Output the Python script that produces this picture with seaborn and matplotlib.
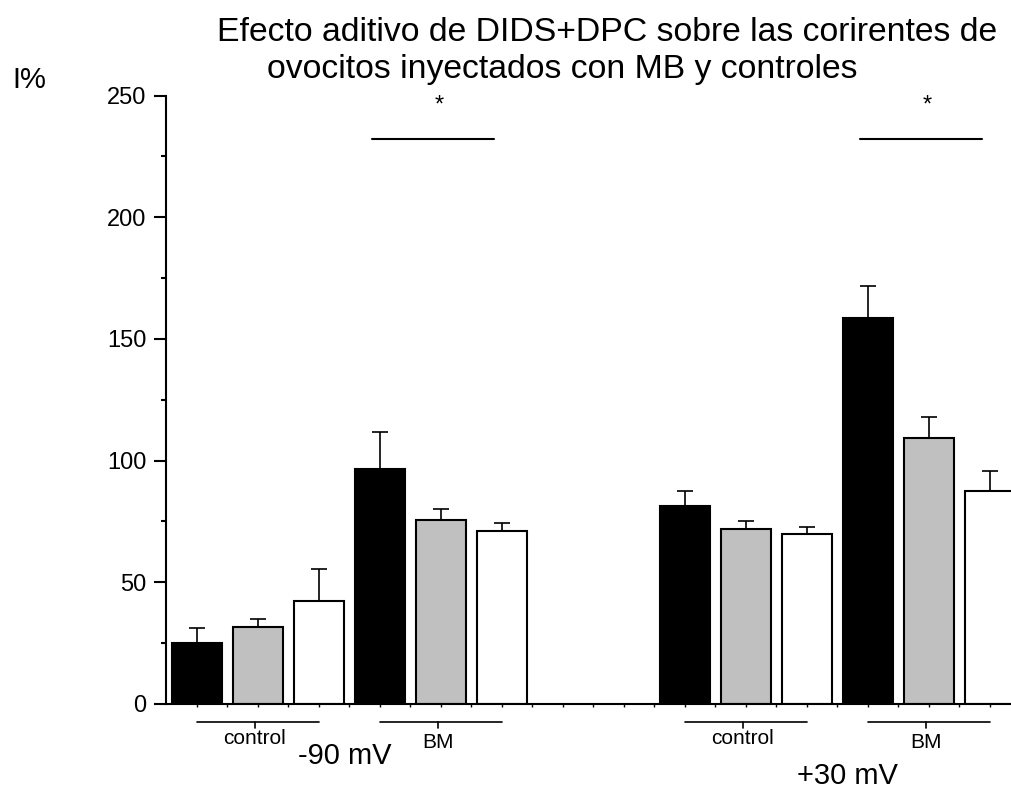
import numpy as np
import pandas as pd
import matplotlib
matplotlib.use("Agg")
import matplotlib.pyplot as plt
import matplotlib.transforms as mtransforms
import seaborn as sns

# Current as % of baseline, mean and SEM, per holding potential and oocyte group
voltages = ["-90 mV", "+30 mV"]
cell_groups = ["control", "BM"]
treatments = ["DIDS", "DPC", "DIDS+DPC"]

m90_control_mean = [25.1, 31.6, 42.3]
m90_control_sem = [6.3, 3.2, 13.2]
m90_bm_mean = [96.4, 75.6, 71.2]
m90_bm_sem = [15.3, 4.6, 3.2]
p30_control_mean = [81.3, 72.0, 69.7]
p30_control_sem = [6.3, 3.2, 2.9]
p30_bm_mean = [158.5, 109.3, 87.4]
p30_bm_sem = [13.4, 8.7, 8.5]

significance = ["*", "*"]  # BM vs control, one per potential

title_lines = ["Efecto aditivo de DIDS+DPC sobre las corirentes de",
               "ovocitos inyectados con MB y controles"]
y_ticks = [0, 50, 100, 150, 200, 250]

bar_colors = ["#000000", "#c0c0c0", "#ffffff"]

means = {("-90 mV", "control"): (m90_control_mean, m90_control_sem),
         ("-90 mV", "BM"): (m90_bm_mean, m90_bm_sem),
         ("+30 mV", "control"): (p30_control_mean, p30_control_sem),
         ("+30 mV", "BM"): (p30_bm_mean, p30_bm_sem)}

rows = []
for vi, v in enumerate(voltages):
    for ci, c in enumerate(cell_groups):
        m, s = means[(v, c)]
        for ti, t in enumerate(treatments):
            rows.append(dict(voltage=v, cells=c, treatment=t,
                             pos=vi * 8 + ci * 3 + ti, mean=m[ti], sem=s[ti]))
df = pd.DataFrame(rows)

sns.set_theme(style="ticks")
plt.rcParams["font.family"] = ["Liberation Sans", "DejaVu Sans"]
plt.rcParams["axes.linewidth"] = 1.5
plt.rcParams["text.color"] = "black"
plt.rcParams["xtick.color"] = "black"
plt.rcParams["ytick.color"] = "black"
plt.rcParams["axes.edgecolor"] = "black"

fig = plt.figure(figsize=(10.11, 7.94), dpi=100)
ax = fig.add_axes([0.1642, 0.1134, 0.8358, 0.7663])

sns.barplot(data=df, x="pos", y="mean", hue="treatment", hue_order=treatments,
            palette=bar_colors, native_scale=True, dodge=False, width=0.82,
            errorbar=None, edgecolor="black", linewidth=1.5, legend=False,
            saturation=1, ax=ax, zorder=2)

ax.errorbar(df["pos"], df["mean"], yerr=[np.zeros(len(df)), df["sem"]],
            fmt="none", ecolor="black", elinewidth=1.2, capsize=6, capthick=1.2,
            zorder=1)

ax.set_xlim(-0.503, 13.35)
ax.set_ylim(0, 250)
ax.set_xlabel("")
ax.set_ylabel("")
sns.despine(ax=ax)

ax.set_yticks(y_ticks)
ax.set_yticks(np.arange(25, 250, 50), minor=True)
ax.tick_params(axis="y", which="major", length=8.6, width=1.5, pad=5.5,
               labelsize=17, colors="black")
ax.tick_params(axis="y", which="minor", length=3.6, width=1.5)
ax.set_xticks(np.arange(0, 13.5, 0.5))
ax.set_xticklabels([])
ax.tick_params(axis="x", which="major", length=2.5, width=1.0)
ax.tick_params(axis="x", which="minor", length=0)

# group brackets below the axis
trans = mtransforms.blended_transform_factory(ax.transData, ax.transAxes)
label_y = {"control": -0.056, "BM": -0.063}
for vi, v in enumerate(voltages):
    for ci, c in enumerate(cell_groups):
        start = vi * 8 + ci * 3
        mid = start + 1
        ax.plot([start, start + 2], [-0.030, -0.030], color="black", lw=1.2,
                transform=trans, clip_on=False)
        ax.plot([mid - 0.05, mid - 0.05], [-0.030, -0.040], color="black", lw=1.2,
                transform=trans, clip_on=False)
        ax.text(mid - 0.05, label_y[c], c, transform=trans, ha="center",
                va="center", fontsize=15)

# significance bars over the BM groups
for vi, mark in enumerate(significance):
    mid = vi * 8 + 3 + 1
    ax.plot([mid - 1.12, mid + 0.88], [232, 232], color="black", lw=1.5,
            clip_on=False)
    ax.text(mid - 0.03, 246, mark, ha="center", va="center", fontsize=17)

fig.text(0.600, 1 - 41 / 794, title_lines[0], ha="center", va="baseline",
         fontsize=24.3)
fig.text(0.556, 1 - 78 / 794, title_lines[1], ha="center", va="baseline",
         fontsize=24.3)
fig.text(0.012, 1 - 88 / 794, "I%", ha="left", va="baseline", fontsize=21)
fig.text(0.341, 1 - 756 / 794, voltages[0], ha="center", va="center", fontsize=21)
fig.text(0.838, 1 - 776 / 794, voltages[1], ha="center", va="center", fontsize=21)

fig.savefig("out.png", dpi=100, facecolor="white")
